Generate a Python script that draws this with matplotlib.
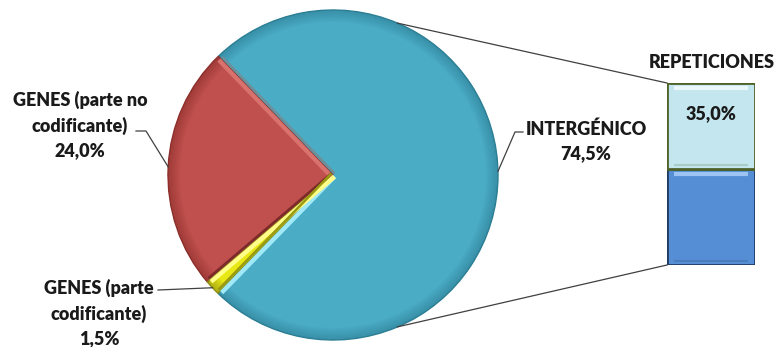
import numpy as np
import matplotlib
matplotlib.use("Agg")
import matplotlib.pyplot as plt
from matplotlib.patches import Wedge

plt.rcParams["font.family"] = ["Lato", "DejaVu Sans"]

# pie: share of the genome
pie_labels = ["INTERGÉNICO", "GENES (parte no\ncodificante)", "GENES (parte\ncodificante)"]
pie_values = [74.5, 24.0, 1.5]
pie_colors = ["#4BACC6", "#C0504D", "#E8E817"]
pie_edge = ["#2C7E94", "#8C2F2C", "#8C8C10"]
# strip on the first radial edge, strip on the second
pie_light = ["#9FE9F8", "#D9716D", "#FFFF8A"]
pie_shade = ["#6F8F98", "#7A2A28", "#9A9A12"]

# bar: split of the intergenic part
bar_title = "REPETICIONES"
bar_values = [39.5, 35.0]          # bottom, top
bar_show = [False, True]
bar_colors = ["#558ED5", "#C3E6EF"]
bar_edges = ["#1F3B63", "#4F6228"]
bar_light = ["#9CC3F2", "#EAF8FB"]

W, H = 774, 347
fig = plt.figure(figsize=(W / 100, H / 100), dpi=100)
ax = fig.add_axes([0, 0, 1, 1])

cx, cy, R = 333, 172, 165
start = 134.0 - 360 * pie_values[0] / 100
wedges, _ = ax.pie(pie_values, colors=pie_colors, startangle=start, counterclock=True,
                   center=(cx, cy), radius=R, frame=True,
                   wedgeprops=dict(linewidth=0))
ax.set_xlim(0, W)
ax.set_ylim(0, H)
ax.set_aspect("equal")
ax.axis("off")

# bevel: darker rim + light / dark strips along the radial edges
for w, ec, lc, sc in zip(wedges, pie_edge, pie_light, pie_shade):
    t1, t2 = w.theta1, w.theta2
    for k in range(10):
        ax.add_patch(Wedge((cx, cy), R - k * 1.2, t1, t2, width=1.3,
                           facecolor=ec, edgecolor="none", alpha=0.6 * (1 - k / 10), zorder=3))
    ax.add_patch(Wedge((cx, cy), R, t1, t2, facecolor="none", edgecolor=ec, lw=1.0, zorder=4))
    for t, s, c, lw in [(t1, 1, lc, 3.2), (t2, -1, sc, 1.8)]:
        a = np.radians(t)
        nx, ny = -np.sin(a), np.cos(a)
        d = 2.2 * s
        ax.plot([cx + d * nx, cx + (R - 3) * np.cos(a) + d * nx],
                [cy + d * ny, cy + (R - 3) * np.sin(a) + d * ny],
                color=c, lw=lw, solid_capstyle="butt", zorder=5)

txt = dict(fontsize=13, fontweight="heavy", color="#1A1A1A", ha="center",
           va="center", linespacing=1.5)

# labels with leader lines from mid-angle of each wedge
mids = [np.radians((w.theta1 + w.theta2) / 2) for w in wedges]
pcts = [f"{v:.1f}".replace(".", ",") + "%" for v in pie_values]
pts = [(cx + R * np.cos(m), cy + R * np.sin(m)) for m in mids]

# intergénico
p = pts[0]
ax.plot([p[0], 515, 523], [p[1] + 4, 215, 215], color="#404040", lw=0.9, zorder=6)
ax.text(586, 206, f"{pie_labels[0]}\n{pcts[0]}", **txt)
# no codificante
p = pts[1]
ax.plot([p[0], 146, 136], [p[1], 216, 216], color="#404040", lw=0.9, zorder=6)
ax.text(80, 222, f"{pie_labels[1]}\n{pcts[1]}", **txt)
# codificante
p = pts[2]
ax.plot([p[0], 158], [p[1], 57], color="#404040", lw=0.9, zorder=6)
ax.text(99, 34, f"{pie_labels[2]}\n{pcts[2]}", **txt)

# bar of the split
bx0, bx1, by0, by1 = 667, 755, 82, 264
bax = fig.add_axes([bx0 / W, by0 / H, (bx1 - bx0) / W, (by1 - by0) / H])
bax.set_xlim(-0.5, 0.5)
bax.set_ylim(0, sum(bar_values))
bax.axis("off")
bottom = 0
for v, c, e, l, show in zip(bar_values, bar_colors, bar_edges, bar_light, bar_show):
    bax.bar(0, v, bottom=bottom, width=1, color=c, edgecolor=e, linewidth=2.0)
    bax.plot([-0.42, 0.42], [bottom + v - 2.2] * 2, color=l, lw=3, solid_capstyle="butt")
    bax.plot([-0.42, 0.42], [bottom + 1.6] * 2, color=e, lw=1.5, alpha=0.2, solid_capstyle="butt")
    if show:
        bax.text(0, bottom + v - 12.5, f"{v:.1f}".replace(".", ",") + "%", **txt)
    bottom += v
ax.text((bx0 + bx1) / 2 + 1, 285, bar_title, **txt)

# connector lines from pie to bar
for ang, yb in [(67, by1), (-67, by0)]:
    a = np.radians(ang)
    ax.plot([cx + R * np.cos(a), bx0], [cy + R * np.sin(a), yb], color="#404040", lw=0.9, zorder=6)

fig.savefig("out.png", dpi=100, facecolor="white")
